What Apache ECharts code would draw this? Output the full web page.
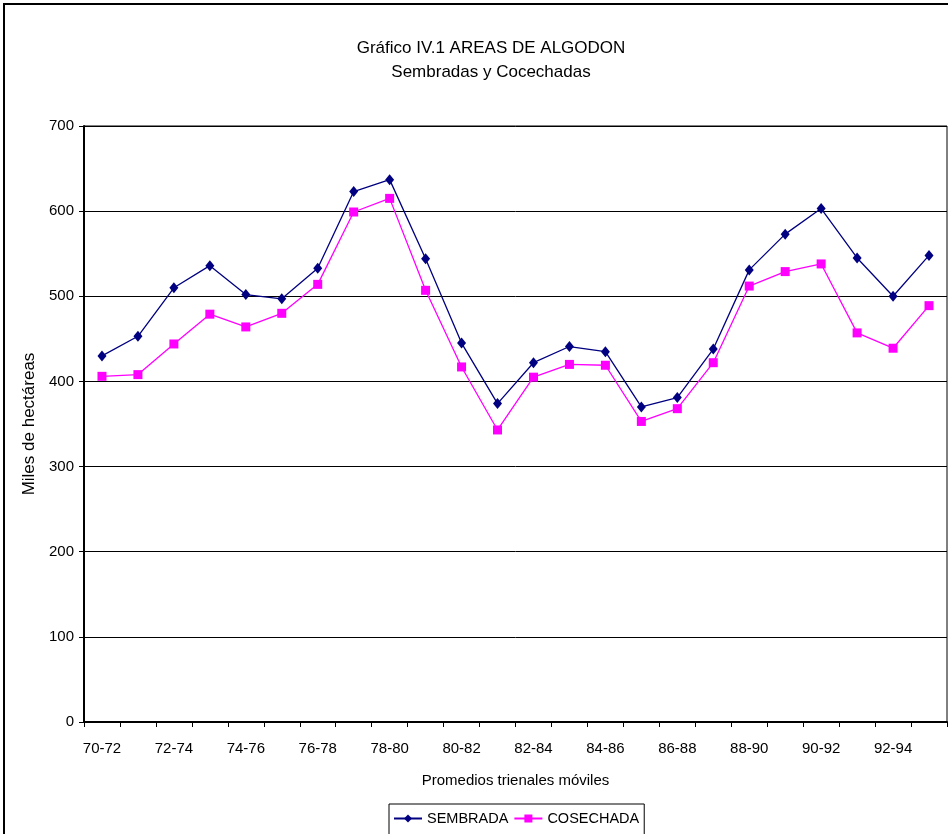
<!DOCTYPE html>
<html>
<head>
<meta charset="utf-8">
<script src="https://cdn.jsdelivr.net/npm/echarts@6/dist/echarts.min.js"></script>
<style>
html,body{margin:0;padding:0;background:#fff;}
#c{width:948px;height:834px;}
</style>
</head>
<body>
<div id="c"></div>
<script>
const categories = ['70-72','71-73','72-74','73-75','74-76','75-77','76-78','77-79','78-80','79-81','80-82','81-83','82-84','83-85','84-86','85-87','86-88','87-89','88-90','89-91','90-92','91-93','92-94','93-95'];
const sembrada = [430,453,510,536,502,497,533,623,637,544,445,374,422,441,435,370,381,438,531,573,603,545,500,548];
const cosechada = [406,408,444,479,464,480,514,599,615,507,417,343,405,420,419,353,368,422,512,529,538,457,439,489];
const yTicks = {min:0, max:700, interval:100};

const FONT = '"Liberation Sans", Arial, sans-serif';
const chart = echarts.init(document.getElementById('c'), null, {renderer:'canvas'});
chart.setOption({
  animation:false,
  backgroundColor:'#fff',
  textStyle:{fontFamily:FONT, color:'#000'},
  title:{
    text:'Gráfico IV.1 AREAS DE ALGODON\nSembradas y Cocechadas',
    left:486, top:31, textAlign:'center',
    textStyle:{fontFamily:FONT, fontSize:17, fontWeight:'normal', color:'#000', lineHeight:24}
  },
  graphic:[{type:'rect', shape:{x:4,y:4,width:1200,height:1200}, style:{fill:null, stroke:'#000', lineWidth:2}, silent:true}],
  legend:{
    left:389, top:804,
    borderColor:'#000', borderWidth:1,
    padding:[7,5,12,4],
    itemGap:5, itemWidth:28, itemHeight:10,
    selectedMode:false,
    textStyle:{fontFamily:FONT, fontSize:14.5, color:'#000'},
    data:['SEMBRADA','COSECHADA']
  },
  grid:{left:84, right:1, top:126, bottom:112, show:true, borderColor:'#000', borderWidth:1, containLabel:false},
  xAxis:{
    type:'category', data:categories, boundaryGap:true,
    name:'Promedios trienales móviles', nameLocation:'middle', nameGap:51,
    nameTextStyle:{fontFamily:FONT, fontSize:15, color:'#000'},
    axisLine:{lineStyle:{color:'#000', width:2}},
    axisTick:{show:true, interval:0, length:5, lineStyle:{color:'#000'}},
    axisLabel:{interval:1, margin:19, fontFamily:FONT, fontSize:15, color:'#000'},
    splitLine:{show:false}
  },
  yAxis:{
    type:'value', min:yTicks.min, max:yTicks.max, interval:yTicks.interval,
    name:'Miles de hectáreas', nameLocation:'middle', nameGap:44, nameRotate:90,
    nameTextStyle:{fontFamily:FONT, fontSize:17, color:'#000'},
    axisLine:{show:true, lineStyle:{color:'#000', width:2}},
    axisTick:{show:true, length:5, lineStyle:{color:'#000'}},
    axisLabel:{margin:10, fontFamily:FONT, fontSize:15, color:'#000'},
    splitLine:{show:true, lineStyle:{color:'#000', width:1}}
  },
  series:[
    {name:'SEMBRADA', type:'line', data:sembrada, symbol:'diamond', symbolSize:[9,11],
     itemStyle:{color:'#000080'}, lineStyle:{color:'#000080', width:1.3}},
    {name:'COSECHADA', type:'line', data:cosechada, symbol:'rect', symbolSize:9,
     itemStyle:{color:'#FF00FF'}, lineStyle:{color:'#FF00FF', width:1.3}}
  ]
});
</script>
</body>
</html>
